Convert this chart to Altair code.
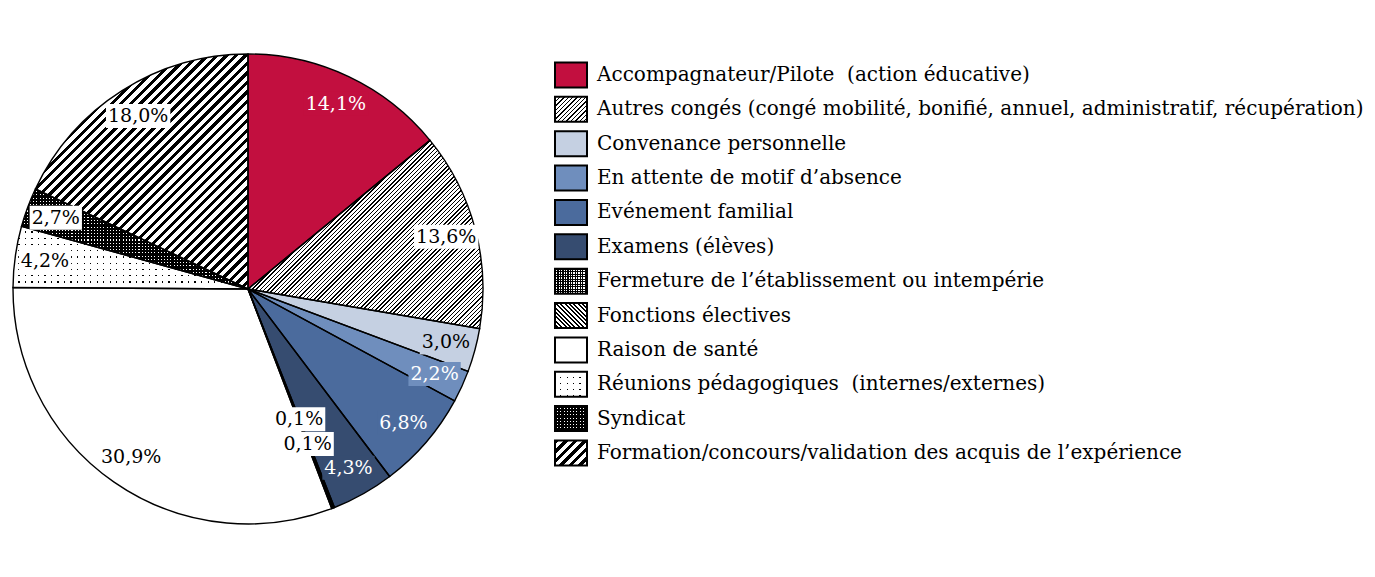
import math
import altair as alt
import pandas as pd

# ---------------- data ----------------
categories = [
    "Accompagnateur/Pilote \u00a0(action éducative)",
    "Autres congés (congé mobilité, bonifié, annuel, administratif, récupération)",
    "Convenance personnelle",
    "En attente de motif d’absence",
    "Evénement familial",
    "Examens (élèves)",
    "Fermeture de l’établissement ou intempérie",
    "Fonctions électives",
    "Raison de santé",
    "Réunions pédagogiques \u00a0(internes/externes)",
    "Syndicat",
    "Formation/concours/validation des acquis de l’expérience",
]
values = [14.1, 13.6, 3.0, 2.2, 6.8, 4.3, 0.1, 0.1, 30.9, 4.2, 2.7, 18.0]
labels = ["14,1%", "13,6%", "3,0%", "2,2%", "6,8%", "4,3%",
          "0,1%", "0,1%", "30,9%", "4,2%", "2,7%", "18,0%"]

df = pd.DataFrame({"idx": list(range(len(categories))), "cat": categories,
                   "value": values, "label": labels})

# ---------------- style / layout ----------------
W, H = 1355, 553
CX, CY, R = 240, 281, 235
FS = 19
LEG_FS = 20
FONT = "DejaVu Serif"
LABEL_R = 205
label_r_special = {6: 140, 7: 166}
L0, STEP = 67, 34.36
SW_X0, SW_X1, SW_H = 547, 579, 25
TXT_X = 589
CLEAR = "rgba(255,255,255,0)"

base_colors = ["#C20F3F", "#FFFFFF", "#C5D0E2", "#6F8EBD", "#4B6B9D", "#364C70",
               "#FFFFFF", "#FFFFFF", "#FFFFFF", "#000000", "#FFFFFF", "#FFFFFF"]
box_colors = ["#C20F3F", "#FFFFFF", "#C5D0E2", "#6F8EBD", "#4B6B9D", "#364C70",
              "#FFFFFF", "#FFFFFF", "#FFFFFF", "#FFFFFF", "#FFFFFF", "#FFFFFF"]
text_colors = ["#FFFFFF", "#000000", "#000000", "#FFFFFF", "#FFFFFF", "#FFFFFF",
               "#000000", "#000000", "#000000", "#000000", "#000000", "#000000"]
# pattern overlays: (kind, color, period px, duty)
patterns = {
    1: [("/", "#000000", 3.0, 0.33)],
    6: [("h", "#000000", 2.4, 0.5), ("v", "#000000", 2.4, 0.5)],
    7: [("\\", "#000000", 3.2, 0.45)],
    9: [("h", "#FFFFFF", 6.5, 0.8), ("v", "#FFFFFF", 6.5, 0.8)],
    10: [("h", "#000000", 3.2, 0.66), ("v", "#000000", 3.2, 0.66)],
    11: [("/", "#000000", 6.7, 0.45)],
}


def gradient(kind, color, period, duty, w, h):
    if kind == "/":
        s = (w + h) / (w * w + h * h)
        x1, y1, x2, y2 = 0, 0, w * s, h * s
        L = (w + h) / math.sqrt(2)
    elif kind == "\\":
        s = (w + h) / (w * w + h * h)
        x1, y1, x2, y2 = 1, 0, 1 - w * s, h * s
        L = (w + h) / math.sqrt(2)
    elif kind == "h":
        x1, y1, x2, y2 = 0, 0, 0, 1
        L = h
    else:
        x1, y1, x2, y2 = 0, 0, 1, 0
        L = w
    n = max(1, round(L / period))
    stops = []
    for k in range(n):
        a = round(k / n, 6)
        b = round((k + duty) / n, 6)
        c = round((k + 1) / n, 6)
        stops += [{"offset": a, "color": color}, {"offset": b, "color": color},
                  {"offset": b, "color": CLEAR}, {"offset": c, "color": CLEAR}]
    return {"gradient": "linear", "x1": x1, "y1": y1, "x2": x2, "y2": y2, "stops": stops}


def arc_bbox(a0, a1, r):
    pts = [(0.0, 0.0), (r * math.sin(a0), -r * math.cos(a0)),
           (r * math.sin(a1), -r * math.cos(a1))]
    for k in range(5):
        a = k * math.pi / 2
        if a0 < a < a1:
            pts.append((r * math.sin(a), -r * math.cos(a)))
    xs_ = [p[0] for p in pts]
    ys_ = [p[1] for p in pts]
    return max(max(xs_) - min(xs_), 1.0), max(max(ys_) - min(ys_), 1.0)


total = sum(values)
bboxes = []
acc = 0.0
for v in values:
    a0 = acc / total * 2 * math.pi
    acc += v
    a1 = acc / total * 2 * math.pi
    bboxes.append(arc_bbox(a0, a1, R))

xs = alt.Scale(domain=[0, W], range=[0, W], nice=False, zero=False)
ys = alt.Scale(domain=[0, H], range=[0, H], nice=False, zero=False)
theta_scale = alt.Scale(domain=[0, 100], range=[0, 2 * math.pi])

r_expr = " : ".join(f"datum.idx == {k} ? {v}" for k, v in label_r_special.items()) + f" : {LABEL_R}"

base = (
    alt.Chart(df)
    .transform_window(end="sum(value)", sort=[alt.SortField("idx")], frame=[None, 0])
    .transform_calculate(
        start="datum.end - datum.value",
        mid="(2 * datum.end - datum.value) / 2",
    )
    .transform_calculate(
        ang="datum.mid / 100 * 2 * PI",
        lr=r_expr,
        ry=f"{L0} + datum.idx * {STEP}",
    )
    .transform_calculate(
        lx=f"{CX} + datum.lr * sin(datum.ang)",
        ly=f"{CY} - datum.lr * cos(datum.ang)",
        bw=f"((length(datum.label) - 2) * 0.636 + 1.27) * {FS} + 4",
        ry0=f"datum.ry - {SW_H / 2}",
        ry1=f"datum.ry + {SW_H / 2}",
    )
    .transform_calculate(
        bx0="datum.lx - datum.bw / 2",
        bx1="datum.lx + datum.bw / 2",
        by0="datum.ly - 12",
        by1="datum.ly + 12",
    )
)

arc_enc = dict(
    theta=alt.Theta("start:Q", scale=theta_scale),
    theta2=alt.Theta2("end:Q"),
    x=alt.value(CX),
    y=alt.value(CY),
)
sw_enc = dict(
    x=alt.value(SW_X0), x2=alt.value(SW_X1),
    y=alt.Y("ry0:Q", scale=ys, axis=None), y2=alt.Y2("ry1:Q"),
)

layers = []
# pie slices
for i in range(len(categories)):
    sel = base.transform_filter(f"datum.idx == {i}")
    layers.append(sel.mark_arc(radius=R, fill=base_colors[i]).encode(**arc_enc))
    w, h = bboxes[i]
    for (kind, col, per, duty) in patterns.get(i, []):
        layers.append(sel.mark_arc(radius=R, fill=gradient(kind, col, per, duty, w, h)).encode(**arc_enc))
layers.append(base.mark_arc(radius=R, fillOpacity=0, stroke="#000000", strokeWidth=1.4).encode(**arc_enc))

# label boxes and labels
for i in range(len(categories)):
    sel = base.transform_filter(f"datum.idx == {i}")
    layers.append(sel.mark_rect(fill=box_colors[i]).encode(
        x=alt.X("bx0:Q", scale=xs, axis=None), x2=alt.X2("bx1:Q"),
        y=alt.Y("by0:Q", scale=ys, axis=None), y2=alt.Y2("by1:Q")))
for i in range(len(categories)):
    sel = base.transform_filter(f"datum.idx == {i}")
    layers.append(sel.mark_text(font=FONT, fontSize=FS, fill=text_colors[i],
                                align="center", baseline="middle").encode(
        x=alt.X("lx:Q", scale=xs, axis=None), y=alt.Y("ly:Q", scale=ys, axis=None),
        text="label:N"))

# legend swatches
for i in range(len(categories)):
    sel = base.transform_filter(f"datum.idx == {i}")
    layers.append(sel.mark_rect(fill=base_colors[i]).encode(**sw_enc))
    for (kind, col, per, duty) in patterns.get(i, []):
        layers.append(sel.mark_rect(fill=gradient(kind, col, per, duty, SW_X1 - SW_X0, SW_H)).encode(**sw_enc))
layers.append(base.mark_rect(fillOpacity=0, stroke="#000000", strokeWidth=2).encode(**sw_enc))

# legend texts
layers.append(base.mark_text(font=FONT, fontSize=LEG_FS, align="left", baseline="middle",
                             fill="#000000").encode(
    x=alt.value(TXT_X), y=alt.Y("ry:Q", scale=ys, axis=None), text="cat:N"))

chart = (
    alt.layer(*layers)
    .properties(width=W, height=H, padding=0, autosize=alt.AutoSizeParams(type="none"))
    .configure_view(strokeWidth=0)
)

chart.save("out.html", embed_options={"renderer": "svg", "actions": False})
